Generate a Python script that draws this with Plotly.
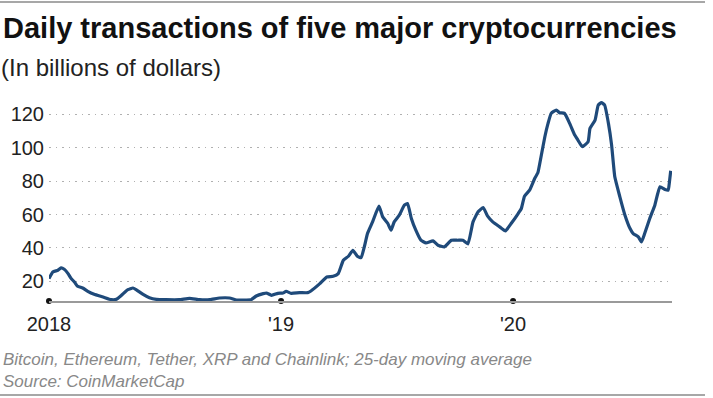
import plotly.graph_objects as go

# ---- data (25-day moving average, billions of dollars) ----
dates = [
    "2018-01-01", "2018-01-07", "2018-01-15", "2018-01-20", "2018-01-25", "2018-01-31",
    "2018-02-05", "2018-02-10", "2018-02-15", "2018-02-23", "2018-03-03", "2018-03-13",
    "2018-03-27", "2018-04-09", "2018-04-17", "2018-04-25", "2018-05-05", "2018-05-13",
    "2018-05-18", "2018-05-29", "2018-06-08", "2018-06-19", "2018-07-04", "2018-07-25",
    "2018-08-10", "2018-08-26", "2018-09-11", "2018-09-26", "2018-10-12", "2018-10-23",
    "2018-11-07", "2018-11-15", "2018-11-23", "2018-12-04", "2018-12-09", "2018-12-17",
    "2018-12-27", "2019-01-04", "2019-01-09", "2019-01-17", "2019-01-30", "2019-02-12",
    "2019-02-17", "2019-03-03", "2019-03-14", "2019-03-24", "2019-04-01", "2019-04-09",
    "2019-04-17", "2019-04-24",
    "2019-05-01", "2019-05-07", "2019-05-12", "2019-05-17", "2019-05-25", "2019-06-04",
    "2019-06-10", "2019-06-18", "2019-06-23", "2019-06-28", "2019-07-06", "2019-07-14",
    "2019-07-19", "2019-07-25", "2019-08-01", "2019-08-09", "2019-08-17", "2019-08-28",
    "2019-09-05", "2019-09-15", "2019-09-26", "2019-10-06", "2019-10-14", "2019-10-22",
    "2019-10-30", "2019-11-07", "2019-11-15", "2019-11-22", "2019-11-30", "2019-12-11",
    "2019-12-20", "2019-12-29", "2020-01-09", "2020-01-14", "2020-01-19", "2020-01-27",
    "2020-02-04", "2020-02-09", "2020-02-14", "2020-02-20", "2020-02-25", "2020-03-01",
    "2020-03-09", "2020-03-14", "2020-03-22", "2020-03-30", "2020-04-07", "2020-04-12",
    "2020-04-19", "2020-04-28", "2020-05-01", "2020-05-09", "2020-05-14", "2020-05-19",
    "2020-05-24", "2020-05-30", "2020-06-04", "2020-06-09", "2020-06-17", "2020-06-25",
    "2020-07-03", "2020-07-08", "2020-07-16", "2020-07-21", "2020-07-26", "2020-08-03",
    "2020-08-11", "2020-08-19", "2020-08-27", "2020-09-01", "2020-09-03", "2020-09-05",
]
values = [
    21.6, 25.6, 26.6, 28.0, 27.2, 24.6,
    21.6, 19.6, 17.0, 16.0, 14.0, 12.2,
    10.6, 9.0, 9.2, 11.6, 15.0, 16.0,
    15.0, 12.2, 10.2, 9.2, 9.0, 9.0,
    9.8, 9.0, 9.0, 10.0, 10.0, 8.8,
    8.8, 9.0, 11.2, 12.6, 13.0, 11.6,
    12.8, 13.0, 14.0, 12.8, 13.2, 13.2,
    14.2, 18.6, 22.6, 23.0, 24.6, 32.6,
    35.0, 38.6,
    35.0, 34.2, 40.6, 48.6, 55.6, 65.0,
    58.6, 54.6, 50.6, 55.6, 59.6, 65.6,
    66.6, 57.6, 50.6, 44.6, 43.0, 44.2,
    41.6, 40.6, 44.6, 44.6, 44.6, 42.4,
    55.6, 61.6, 64.2, 59.0, 55.6, 52.6,
    50.2, 54.6, 60.6, 63.6, 71.0, 74.6,
    81.6, 85.0, 94.6, 106.6, 114.6, 120.6,
    122.6, 121.0, 120.6, 114.6, 107.6, 104.6,
    100.6, 103.6, 111.6, 116.6, 125.6, 127.0,
    125.6, 114.6, 101.6, 82.6, 70.6, 59.6,
    51.6, 48.6, 46.6, 43.6, 48.6, 57.6,
    65.6, 76.6, 75.0, 74.6, 79.6, 86.2,
]
x_tick_vals = ["2018-01-01", "2019-01-01", "2020-01-01"]
x_tick_text = ["2018", "'19", "'20"]
y_tick_vals = [20, 40, 60, 80, 100, 120]

title_text = "Daily transactions of five major cryptocurrencies"
subtitle_text = "(In billions of dollars)"
note_text = "Bitcoin, Ethereum, Tether, XRP and Chainlink; 25-day moving average"
source_text = "Source: CoinMarketCap"

# ---- layout geometry ----
W, H = 713, 398
ML, MR, MT, MB = 49, 41, 98, 97
Y_MIN, Y_MAX = 8.2, 129.8
X_RANGE = ["2018-01-01", "2020-09-07"]


def px_x(xp):
    return (xp - ML) / (W - ML - MR)


def px_y(yp):
    return (H - MB - yp) / (H - MT - MB)


fig = go.Figure()

fig.add_trace(go.Scatter(
    x=dates, y=values, mode="lines",
    line=dict(color="#1f4a7a", width=3.2, shape="spline", smoothing=0.4),
    hoverinfo="x+y", showlegend=False,
))

# tick dots on the baseline
fig.add_trace(go.Scatter(
    x=x_tick_vals, y=[Y_MIN] * len(x_tick_vals), mode="markers",
    marker=dict(color="#111111", size=6), cliponaxis=False,
    hoverinfo="skip", showlegend=False,
))

fig.update_layout(
    width=W, height=H,
    margin=dict(l=ML, r=MR, t=MT, b=MB, autoexpand=False),
    paper_bgcolor="white", plot_bgcolor="white",
    font=dict(family="Liberation Sans, Arial, sans-serif", color="#222222"),
    xaxis=dict(
        type="date", range=X_RANGE,
        tickmode="array", tickvals=x_tick_vals, ticktext=x_tick_text,
        tickfont=dict(size=20, color="#222222"),
        showgrid=False, zeroline=False,
        showline=True, linecolor="#9a9a9a", linewidth=1.5,
        ticks="", ticklabelstandoff=4,
    ),
    yaxis=dict(
        range=[Y_MIN, Y_MAX],
        tickmode="array", tickvals=y_tick_vals,
        tickfont=dict(size=20, color="#222222"),
        showgrid=True, gridcolor="#b0b0b0", gridwidth=1.3, griddash="1.5px,5px",
        zeroline=False, showline=False, ticks="", ticklabelstandoff=4,
    ),
    shapes=[
        dict(type="line", xref="paper", yref="paper",
             x0=px_x(0), x1=px_x(705), y0=px_y(2), y1=px_y(2),
             line=dict(color="#8a8a8a", width=1.5)),
        dict(type="line", xref="paper", yref="paper",
             x0=px_x(0), x1=px_x(705), y0=px_y(395), y1=px_y(395),
             line=dict(color="#8a8a8a", width=1.5)),
    ],
    annotations=[
        dict(text="<b>" + title_text + "</b>", xref="paper", yref="paper",
             x=px_x(1), y=px_y(28), xanchor="left", yanchor="middle",
             showarrow=False,
             font=dict(family="Liberation Sans, Arial, sans-serif",
                       size=29, color="#111111")),
        dict(text=subtitle_text, xref="paper", yref="paper",
             x=px_x(-1), y=px_y(67), xanchor="left", yanchor="middle",
             showarrow=False,
             font=dict(family="Liberation Sans, Arial, sans-serif",
                       size=24, color="#222222")),
        dict(text="<i>" + note_text + "</i>", xref="paper", yref="paper",
             x=px_x(1), y=px_y(359), xanchor="left", yanchor="middle",
             showarrow=False,
             font=dict(family="Liberation Sans, Arial, sans-serif", size=17, color="#888888")),
        dict(text="<i>" + source_text + "</i>", xref="paper", yref="paper",
             x=px_x(1), y=px_y(381), xanchor="left", yanchor="middle",
             showarrow=False,
             font=dict(family="Liberation Sans, Arial, sans-serif", size=17, color="#888888")),
    ],
)

fig.write_html("out.html", config={"displayModeBar": False},
               post_script="document.body.style.margin='0';")
